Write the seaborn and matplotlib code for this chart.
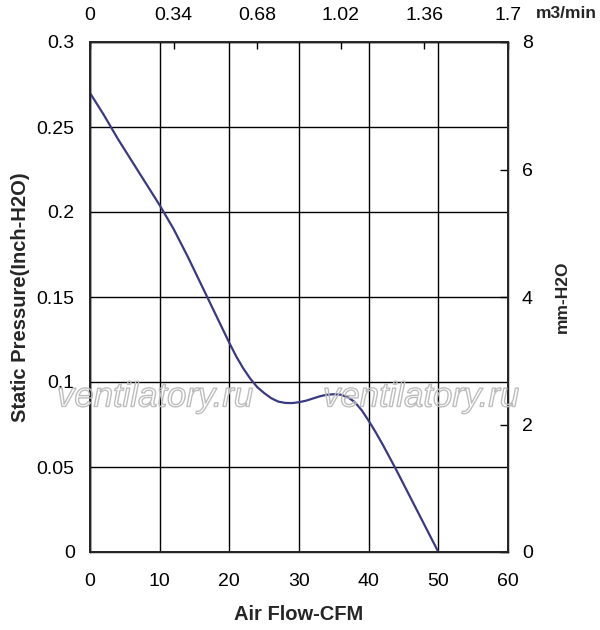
import matplotlib
matplotlib.use("Agg")
import matplotlib.pyplot as plt
import matplotlib.patheffects as pe
import seaborn as sns
import pandas as pd

# data
cfm = [0, 2, 4, 6, 8, 10, 12, 14, 16, 18, 19, 20, 21, 22, 23, 24, 25, 26, 27, 28, 29, 30,
       31, 32, 33, 34, 35, 36, 37, 38, 39, 40, 41, 42, 43, 44, 46, 48, 50]
pressure = [0.270, 0.257, 0.243, 0.230, 0.217, 0.204, 0.190, 0.174, 0.157, 0.140, 0.1315,
            0.123, 0.115, 0.108, 0.102, 0.097, 0.0935, 0.0905, 0.0885, 0.0877, 0.0876, 0.0881,
            0.0890, 0.0903, 0.0916, 0.0925, 0.0928, 0.0925, 0.0911, 0.0882, 0.0834, 0.0772,
            0.0705, 0.0633, 0.0557, 0.048, 0.032, 0.016, 0.0]
x_ticks = [0, 10, 20, 30, 40, 50, 60]
y_ticks = [0, 0.05, 0.1, 0.15, 0.2, 0.25, 0.3]
y_tick_labels = ["0", "0.05", "0.1", "0.15", "0.2", "0.25", "0.3"]
top_ticks = [0, 0.34, 0.68, 1.02, 1.36, 1.7]
top_tick_labels = ["0", "0.34", "0.68", "1.02", "1.36", "1.7"]
right_ticks = [0, 2, 4, 6, 8]

df = pd.DataFrame({"cfm": cfm, "pressure": pressure})

sns.set_theme(style="white")
plt.rcParams['font.family'] = ['Liberation Sans', 'DejaVu Sans']

fig = plt.figure(figsize=(6, 6.3), dpi=100)
ax = fig.add_axes([90/600, 1 - 552/630, 418/600, 510/630])

sns.lineplot(data=df, x="cfm", y="pressure", ax=ax, color="#3a3a80", linewidth=1.6, zorder=3)

ax.set_xlim(0, 60)
ax.set_ylim(0, 0.3)
ax.set_xticks(x_ticks)
ax.set_yticks(y_ticks)
ax.set_yticklabels(y_tick_labels)
ax.grid(True, color="black", linewidth=1.0)
ax.tick_params(axis="x", length=0, labelsize=14, colors="black", pad=15)
ax.tick_params(axis="y", length=0, labelsize=14, colors="black", pad=11)
for s in ax.spines.values():
    s.set_color("black")
    s.set_linewidth(1.0)
ax.set_xlabel("Air Flow-CFM", fontsize=14.5, fontweight="bold", labelpad=11)
ax.set_ylabel("Static Pressure(Inch-H2O)", fontsize=14.5, fontweight="bold", labelpad=5)

# top axis
axt = ax.twiny()
axt.set_xlim(0, 1.7)
axt.set_xticks(top_ticks)
axt.set_xticklabels(top_tick_labels)
axt.tick_params(axis="x", direction="in", length=5, width=1, labelsize=14, colors="black", pad=13)
axt.grid(False)

# right axis
axr = ax.twinx()
axr.set_ylim(0, 8)
axr.set_yticks(right_ticks)
axr.tick_params(axis="y", direction="in", length=6, width=1, labelsize=14, colors="black", pad=10)
axr.grid(False)
axr.set_ylabel("mm-H2O", fontsize=12.5, fontweight="bold", labelpad=16)

fig.text(566/600, 1 - 13/630, "m3/min", fontsize=12.5, fontweight="bold", ha="center", va="center")

for xpos in (57, 323):
    fig.text(xpos/600, 1 - 397/630, "ventilatory.ru", fontsize=25, style="italic",
             color="none", ha="left", va="center", zorder=5,
             path_effects=[pe.withStroke(linewidth=1.0, foreground="#bdbdbd")])

fig.savefig("out.png", dpi=100)
